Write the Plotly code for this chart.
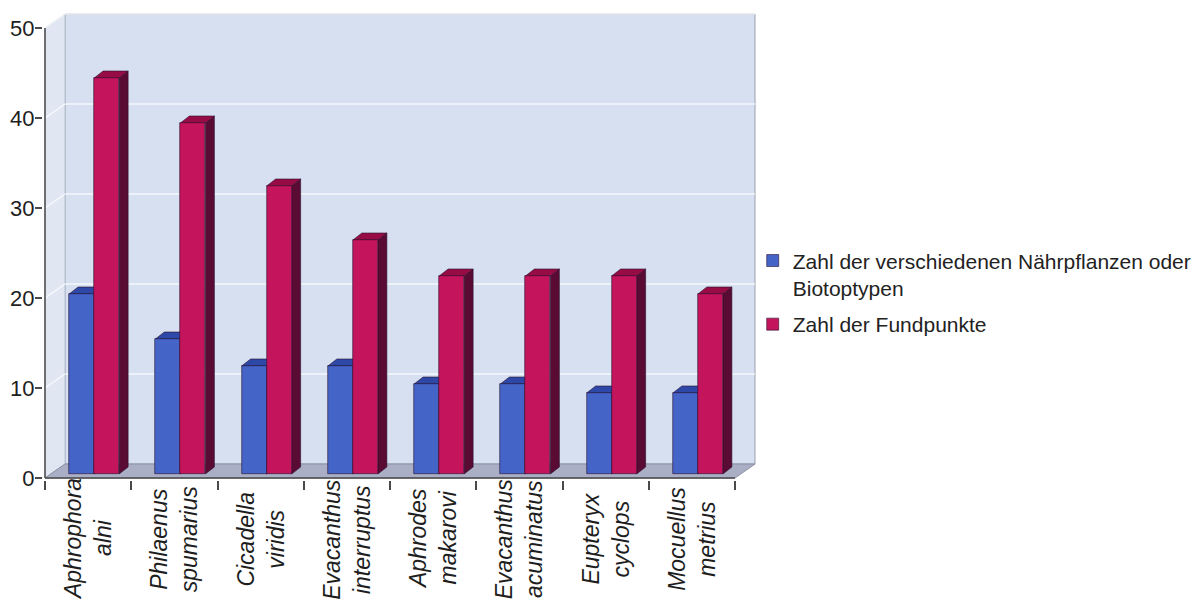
import plotly.graph_objects as go

# Species (category labels, two lines each)
species = [
    "Aphrophora<br>alni",
    "Philaenus<br>spumarius",
    "Cicadella<br>viridis",
    "Evacanthus<br>interruptus",
    "Aphrodes<br>makarovi",
    "Evacanthus<br>acuminatus",
    "Eupteryx<br>cyclops",
    "Mocuellus<br>metrius",
]
naehrpflanzen = [20, 15, 12, 12, 10, 10, 9, 9]
fundpunkte = [44, 39, 32, 26, 22, 22, 22, 20]
y_tick_values = [0, 10, 20, 30, 40, 50]

name_blue = "Zahl der verschiedenen Nährpflanzen oder<br>Biotoptypen"
name_red = "Zahl der Fundpunkte"

# ---- geometry of the pseudo-3D box (pixels converted into axis units) ----
N = len(species)
Y_MAX = 50
PX_X = 86.25          # pixels per category
PX_Y = 9.0            # pixels per value unit
PAD_X = 2 / PX_X
PAD_Y = 2 / PX_Y
WALL_DX, WALL_DY = 20 / PX_X, 14 / PX_Y     # depth of floor / side wall
FRONT_DX, FRONT_DY = 6 / PX_X, 4 / PX_Y     # bar front face offset into depth
BAR_DX, BAR_DY = 9 / PX_X, 7 / PX_Y         # bar depth
BAR_W = 0.29

BLUE = dict(front="#4464c8", top="#2d48a6", side="#1b2a74")
RED = dict(front="#c4145c", top="#980c46", side="#5a0b33")

FONT = "Liberation Sans, Arial, sans-serif"

blue_x = [i + 0.5 + FRONT_DX - BAR_W / 2 for i in range(N)]
red_x = [i + 0.5 + FRONT_DX + BAR_W / 2 for i in range(N)]

fig = go.Figure()
for xs, vals, name, col, grp in [
    (blue_x, naehrpflanzen, name_blue, BLUE, "a"),
    (red_x, fundpunkte, name_red, RED, "b"),
]:
    fig.add_trace(go.Bar(
        x=xs, y=vals, base=[FRONT_DY] * N, width=BAR_W, name=name, legendgroup=grp,
        marker=dict(color=col["front"], line=dict(color="#2a1030", width=0.6)),
        hovertemplate="%{y}<extra></extra>",
    ))

shapes = []


def poly(points, fill, line_color=None, width=0, layer="below"):
    path = "M " + " L ".join(f"{x},{y}" for x, y in points) + " Z"
    return dict(type="path", path=path, xref="x", yref="y", fillcolor=fill,
                line=dict(color=line_color or fill, width=width), layer=layer)


# back wall, side wall, floor
shapes.append(poly([(WALL_DX, WALL_DY), (N + WALL_DX, WALL_DY),
                    (N + WALL_DX, Y_MAX + WALL_DY), (WALL_DX, Y_MAX + WALL_DY)],
                   "#d7e0f0", "#9aa0b0", 1))
shapes.append(poly([(0, 0), (WALL_DX, WALL_DY), (WALL_DX, Y_MAX + WALL_DY), (0, Y_MAX)],
                   "#e0e7f3", "#b8bfcf", 1))
shapes.append(poly([(0, 0), (N, 0), (N + WALL_DX, WALL_DY), (WALL_DX, WALL_DY)],
                   "#abafc5", "#8c90a6", 1))

# gridlines on the back wall and the side wall
for v in y_tick_values[1:]:
    shapes.append(dict(type="line", xref="x", yref="y", x0=WALL_DX, x1=N + WALL_DX,
                       y0=v + WALL_DY, y1=v + WALL_DY, layer="below",
                       line=dict(color="rgba(255,255,255,0.75)", width=1.5)))
    shapes.append(dict(type="line", xref="x", yref="y", x0=0, x1=WALL_DX,
                       y0=v, y1=v + WALL_DY, layer="below",
                       line=dict(color="rgba(255,255,255,0.75)", width=1.5)))

# top and side faces of each bar
for xs, vals, col in [(blue_x, naehrpflanzen, BLUE), (red_x, fundpunkte, RED)]:
    for xc, v in zip(xs, vals):
        x0, x1 = xc - BAR_W / 2, xc + BAR_W / 2
        b, t = FRONT_DY, FRONT_DY + v
        shapes.append(poly([(x1, b), (x1, t), (x1 + BAR_DX, t + BAR_DY), (x1 + BAR_DX, b + BAR_DY)],
                           col["side"], "#2a1030", 0.6))
        shapes.append(poly([(x0, t), (x1, t), (x1 + BAR_DX, t + BAR_DY), (x0 + BAR_DX, t + BAR_DY)],
                           col["top"], "#2a1030", 0.6))

# axis lines
shapes.append(dict(type="line", xref="x", yref="y", x0=0, x1=0, y0=0, y1=Y_MAX,
                   line=dict(color="#4a4a4a", width=1.5), layer="above"))
shapes.append(dict(type="line", xref="x", yref="y", x0=0, x1=N, y0=0, y1=0,
                   line=dict(color="#4a4a4a", width=1.5), layer="above"))

# category labels (rotated, italic, centred lines)
annotations = []
for i, s in enumerate(species):
    annotations.append(dict(
        x=i + 0.5, xref="x", y=-0.126, yref="paper", text=f"<i>{s}</i>",
        textangle=-90, showarrow=False, xanchor="center", yanchor="middle",
        align="center", font=dict(family=FONT, size=23, color="#1e1e1e"),
    ))

fig.update_layout(
    width=1202, height=608,
    margin=dict(l=43, r=445, t=12, b=128, autoexpand=False),
    paper_bgcolor="white", plot_bgcolor="white",
    barmode="overlay", bargap=0,
    showlegend=True,
    legend=dict(x=0.994, y=0.512, xanchor="left", yanchor="top", valign="top",
                bgcolor="rgba(0,0,0,0)", traceorder="grouped",
                font=dict(family=FONT, size=21, color="#222222"),
                tracegroupgap=6),
    xaxis=dict(range=[-PAD_X, N + WALL_DX + PAD_X], tickvals=list(range(N + 1)),
               showticklabels=False, ticks="outside", ticklen=9, tickcolor="#4a4a4a",
               tickwidth=1.5, showgrid=False, zeroline=False, showline=False,
               fixedrange=True),
    yaxis=dict(range=[-PAD_Y, Y_MAX + WALL_DY + PAD_Y], tickvals=y_tick_values,
               ticks="outside", ticklen=7, tickcolor="#4a4a4a", tickwidth=1.5,
               ticklabelstandoff=-4,
               tickfont=dict(family=FONT, size=22, color="#1e1e1e"),
               showgrid=False, zeroline=False, showline=False, fixedrange=True),
    shapes=shapes,
    annotations=annotations,
)

fig.write_html("out.html")
